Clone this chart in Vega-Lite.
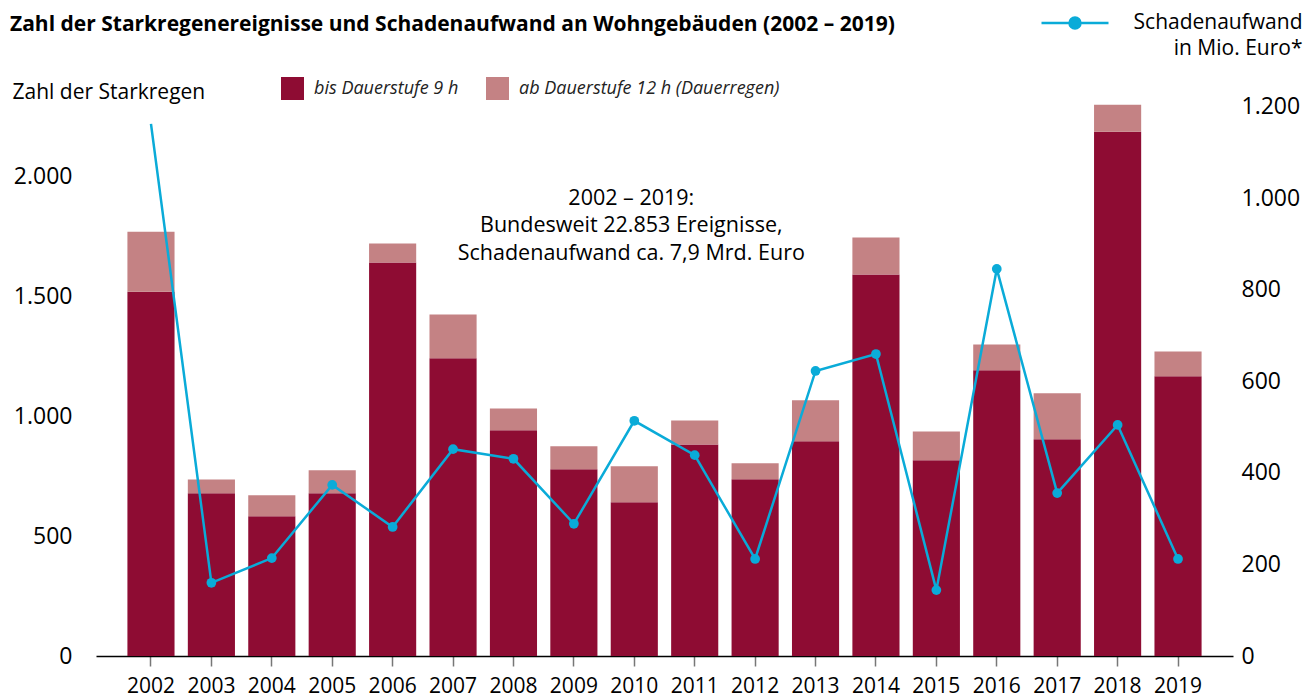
{
  "$schema": "https://vega.github.io/schema/vega-lite/v6.json",
  "width": 1137,
  "height": 550,
  "autosize": {"type": "none"},
  "padding": {"left": 96, "top": 106, "right": 71, "bottom": 41},
  "background": "white",
  "config": {"view": {"stroke": null}, "font": "Open Sans", "axis": {"grid": false}},
  "title": {
    "text": "Zahl der Starkregenereignisse und Schadenaufwand an Wohngebäuden (2002 – 2019)",
    "anchor": "start",
    "frame": "group",
    "font": "Open Sans",
    "fontSize": 21,
    "fontWeight": "bold",
    "color": "black",
    "dx": -86,
    "baseline": "alphabetic",
    "offset": -64
  },
  "datasets": {
    "events": [
      {"year": "2002", "kind": "bis Dauerstufe 9 h", "count": 1520},
      {"year": "2002", "kind": "ab Dauerstufe 12 h (Dauerregen)", "count": 250},
      {"year": "2003", "kind": "bis Dauerstufe 9 h", "count": 679},
      {"year": "2003", "kind": "ab Dauerstufe 12 h (Dauerregen)", "count": 58},
      {"year": "2004", "kind": "bis Dauerstufe 9 h", "count": 583},
      {"year": "2004", "kind": "ab Dauerstufe 12 h (Dauerregen)", "count": 88},
      {"year": "2005", "kind": "bis Dauerstufe 9 h", "count": 679},
      {"year": "2005", "kind": "ab Dauerstufe 12 h (Dauerregen)", "count": 96},
      {"year": "2006", "kind": "bis Dauerstufe 9 h", "count": 1642},
      {"year": "2006", "kind": "ab Dauerstufe 12 h (Dauerregen)", "count": 79},
      {"year": "2007", "kind": "bis Dauerstufe 9 h", "count": 1242},
      {"year": "2007", "kind": "ab Dauerstufe 12 h (Dauerregen)", "count": 183},
      {"year": "2008", "kind": "bis Dauerstufe 9 h", "count": 942},
      {"year": "2008", "kind": "ab Dauerstufe 12 h (Dauerregen)", "count": 91},
      {"year": "2009", "kind": "bis Dauerstufe 9 h", "count": 779},
      {"year": "2009", "kind": "ab Dauerstufe 12 h (Dauerregen)", "count": 96},
      {"year": "2010", "kind": "bis Dauerstufe 9 h", "count": 642},
      {"year": "2010", "kind": "ab Dauerstufe 12 h (Dauerregen)", "count": 150},
      {"year": "2011", "kind": "bis Dauerstufe 9 h", "count": 883},
      {"year": "2011", "kind": "ab Dauerstufe 12 h (Dauerregen)", "count": 100},
      {"year": "2012", "kind": "bis Dauerstufe 9 h", "count": 738},
      {"year": "2012", "kind": "ab Dauerstufe 12 h (Dauerregen)", "count": 66},
      {"year": "2013", "kind": "bis Dauerstufe 9 h", "count": 896},
      {"year": "2013", "kind": "ab Dauerstufe 12 h (Dauerregen)", "count": 171},
      {"year": "2014", "kind": "bis Dauerstufe 9 h", "count": 1592},
      {"year": "2014", "kind": "ab Dauerstufe 12 h (Dauerregen)", "count": 154},
      {"year": "2015", "kind": "bis Dauerstufe 9 h", "count": 817},
      {"year": "2015", "kind": "ab Dauerstufe 12 h (Dauerregen)", "count": 120},
      {"year": "2016", "kind": "bis Dauerstufe 9 h", "count": 1192},
      {"year": "2016", "kind": "ab Dauerstufe 12 h (Dauerregen)", "count": 108},
      {"year": "2017", "kind": "bis Dauerstufe 9 h", "count": 904},
      {"year": "2017", "kind": "ab Dauerstufe 12 h (Dauerregen)", "count": 192},
      {"year": "2018", "kind": "bis Dauerstufe 9 h", "count": 2188},
      {"year": "2018", "kind": "ab Dauerstufe 12 h (Dauerregen)", "count": 112},
      {"year": "2019", "kind": "bis Dauerstufe 9 h", "count": 1167},
      {"year": "2019", "kind": "ab Dauerstufe 12 h (Dauerregen)", "count": 104}
    ],
    "damage": [
      {"year": "2002", "damage": 1163},
      {"year": "2003", "damage": 160},
      {"year": "2004", "damage": 214},
      {"year": "2005", "damage": 374},
      {"year": "2006", "damage": 282},
      {"year": "2007", "damage": 452},
      {"year": "2008", "damage": 431},
      {"year": "2009", "damage": 289},
      {"year": "2010", "damage": 514},
      {"year": "2011", "damage": 439},
      {"year": "2012", "damage": 212},
      {"year": "2013", "damage": 623},
      {"year": "2014", "damage": 660},
      {"year": "2015", "damage": 144},
      {"year": "2016", "damage": 846},
      {"year": "2017", "damage": 356},
      {"year": "2018", "damage": 505},
      {"year": "2019", "damage": 212}
    ]
  },
  "layer": [
    {
      "layer": [
        {
          "data": {"name": "events"},
          "mark": {"type": "bar"},
          "encoding": {
            "x": {
              "field": "year",
              "type": "ordinal",
              "scale": {"paddingInner": 0.22, "paddingOuter": 0.52},
              "axis": {
                "title": null,
                "labelAngle": 0,
                "labelFontSize": 21,
                "labelColor": "black",
                "domainColor": "black",
                "domainWidth": 1.5,
                "tickColor": "#777777",
                "tickSize": 10,
                "tickWidth": 1.5,
                "labelPadding": 9,
                "bandPosition": 0.5
              }
            },
            "y": {
              "field": "count",
              "type": "quantitative",
              "stack": "zero",
              "scale": {"domain": [0, 2295], "nice": false},
              "axis": {
                "title": "Zahl der Starkregen",
                "titleAngle": 0,
                "titleAlign": "left",
                "titleBaseline": "alphabetic",
                "titleX": -84,
                "titleY": -8,
                "titleFontSize": 21,
                "titleFontWeight": "normal",
                "titleColor": "black",
                "values": [0, 500, 1000, 1500, 2000],
                "labelExpr": "replace(format(datum.value, ','), ',', '.')",
                "labelFontSize": 23,
                "labelColor": "black",
                "labelPadding": 24,
                "labelFlush": false,
                "domain": false,
                "ticks": false,
                "tickSize": 0
              }
            },
            "color": {
              "field": "kind",
              "type": "nominal",
              "scale": {
                "domain": ["bis Dauerstufe 9 h", "ab Dauerstufe 12 h (Dauerregen)"],
                "range": ["#8e0c33", "#c48284"]
              },
              "legend": {
                "title": null,
                "orient": "none",
                "legendX": 185,
                "legendY": -29,
                "direction": "horizontal",
                "symbolType": "square",
                "symbolSize": 529,
                "symbolStrokeWidth": 0,
                "labelFontSize": 18,
                "labelFontStyle": "italic",
                "labelColor": "#222222",
                "labelOffset": 10,
                "columnPadding": 27,
                "labelLimit": 400
              }
            },
            "order": {"field": "kind", "sort": "descending"}
          }
        },
        {
          "data": {"values": [{}]},
          "mark": {
            "type": "text",
            "text": ["2002 – 2019:", "Bundesweit 22.853 Ereignisse,", "Schadenaufwand ca. 7,9 Mrd. Euro"],
            "font": "Open Sans",
            "fontSize": 21.5,
            "align": "center",
            "baseline": "alphabetic",
            "lineHeight": 27.5,
            "dx": -3,
            "color": "black"
          },
          "encoding": {
            "x": {"datum": "2010", "type": "ordinal"},
            "y": {"datum": 1882, "type": "quantitative"}
          }
        }
      ]
    },
    {
      "layer": [
        {
          "data": {"name": "damage"},
          "mark": {"type": "line", "strokeWidth": 2.5},
          "encoding": {
            "x": {"field": "year", "type": "ordinal"},
            "y": {
              "field": "damage",
              "type": "quantitative",
              "scale": {"domain": [0, 1202], "nice": false},
              "axis": {
                "orient": "right",
                "title": ["Schadenaufwand", "in Mio. Euro*"],
                "titleAngle": 0,
                "titleAlign": "right",
                "titleBaseline": "alphabetic",
                "titleX": 69,
                "titleY": -78,
                "titleFontSize": 21,
                "titleFontWeight": "normal",
                "titleColor": "black",
                "titleLineHeight": 26,
                "values": [0, 200, 400, 600, 800, 1000, 1200],
                "labelExpr": "replace(format(datum.value, ','), ',', '.')",
                "labelFontSize": 23,
                "labelColor": "black",
                "labelPadding": 8,
                "labelFlush": false,
                "domain": false,
                "ticks": false,
                "tickSize": 0
              }
            },
            "stroke": {
              "datum": "Schadenaufwand",
              "type": "nominal",
              "scale": {"range": ["#0aabd8"]},
              "legend": {
                "title": null,
                "orient": "none",
                "legendX": 944,
                "legendY": -118,
                "symbolType": "M-1,0L1,0M0.164,0A0.164,0.164,0,1,1,-0.164,0A0.164,0.164,0,1,1,0.164,0Z",
                "symbolSize": 4489,
                "symbolStrokeWidth": 2.5,
                "symbolFillColor": "#0aabd8",
                "symbolStrokeColor": "#0aabd8",
                "labelExpr": "''"
              }
            }
          }
        },
        {
          "data": {"name": "damage"},
          "transform": [{"filter": "datum.year != '2002'"}],
          "mark": {"type": "point", "filled": true, "size": 95, "color": "#0aabd8", "opacity": 1},
          "encoding": {
            "x": {"field": "year", "type": "ordinal"},
            "y": {"field": "damage", "type": "quantitative"}
          }
        }
      ]
    }
  ],
  "resolve": {"scale": {"y": "independent"}}
}
